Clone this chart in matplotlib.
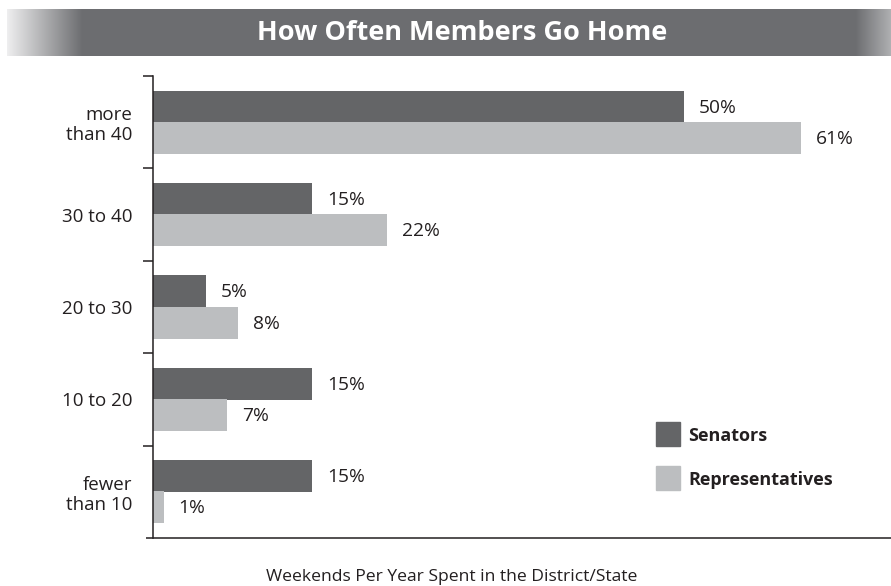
import matplotlib
matplotlib.use("Agg")
import matplotlib.pyplot as plt
from matplotlib.patches import Rectangle
import numpy as np

plt.rcParams['font.family'] = ['Open Sans', 'DejaVu Sans']

# data
categories = ["more\nthan 40", "30 to 40", "20 to 30", "10 to 20", "fewer\nthan 10"]
senators = [50, 15, 5, 15, 15]
representatives = [61, 22, 8, 7, 1]

dark = "#646567"
light = "#bcbec0"
ink = "#231f20"

W, H = 891, 586
fig = plt.figure(figsize=(W / 100, H / 100), dpi=100)

# title banner with gradient ends
bx0, bx1, by0, by1 = 7, 891, 9, 56
bax = fig.add_axes([bx0 / W, 1 - by1 / H, (bx1 - bx0) / W, (by1 - by0) / H])
bax.axis("off")
n = bx1 - bx0
band = np.array([0x6c, 0x6d, 0x70]) / 255.0
row = np.tile(band, (n, 1))
lw = 76
row[:lw] = np.linspace(np.array([0xee, 0xee, 0xef]) / 255.0, band, lw)
rw = 36
row[-rw:] = np.linspace(band, np.array([0xae, 0xaf, 0xb1]) / 255.0, rw)
bax.imshow(row[np.newaxis, :, :], aspect="auto", extent=(0, 1, 0, 1))
bax.set_xlim(0, 1)
bax.set_ylim(0, 1)
fig.text(462 / W, 1 - 33 / H, "How Often Members Go Home", color="white",
         fontsize=19.5, fontweight="bold", ha="center", va="center")

# main axes
left, right, top, bottom = 153, 891, 76, 538
ax = fig.add_axes([left / W, 1 - bottom / H, (right - left) / W, (bottom - top) / H])
y = np.arange(len(categories))[::-1]
bh = 0.346
off = 0.168
ax.barh(y + off, senators, height=bh, color=dark, label="Senators")
ax.barh(y - off, representatives, height=bh, color=light, label="Representatives")

fs = 13.8
for yi, s, r in zip(y, senators, representatives):
    ax.annotate(f"{s}%", (s, yi + off), xytext=(15, -1), textcoords="offset pixels",
                ha="left", va="center", fontsize=fs, color=ink)
    ax.annotate(f"{r}%", (r, yi - off), xytext=(15, -1), textcoords="offset pixels",
                ha="left", va="center", fontsize=fs, color=ink)

ax.set_xlim(0, (right - left) / 10.62)
ax.set_ylim(-0.5, len(categories) - 0.5)

for s in ["top", "right", "bottom"]:
    ax.spines[s].set_visible(False)
ax.spines["left"].set_linewidth(1.1)
ax.spines["left"].set_color(ink)
ax.set_xticks([])
ax.set_yticks(np.arange(len(categories)) + 0.5)
ax.set_yticklabels([])
ax.tick_params(axis="y", direction="out", length=7, width=1.1, color=ink)
ax.set_yticks(y, categories, minor=True)
ax.tick_params(axis="y", which="minor", length=0, pad=15, labelsize=13.5, labelcolor=ink)
for t in ax.get_yticklabels(minor=True):
    t.set_horizontalalignment("right")
    t.set_multialignment("right")
    t.set_linespacing(1.15)

# bottom rule extending past the left spine
ax.plot([-7 / 10.62, ax.get_xlim()[1]], [-0.5, -0.5], color=ink, lw=1.1,
        clip_on=False, solid_capstyle="butt")

# legend
for i, (lab, col) in enumerate([("Senators", dark), ("Representatives", light)]):
    y0 = 422 + i * 44
    fig.patches.append(Rectangle((656 / W, 1 - (y0 + 24) / H), 24 / W, 24 / H,
                                 transform=fig.transFigure, color=col))
    fig.text(688 / W, 1 - (y0 + 14) / H, lab, fontsize=13, fontweight="bold",
             color=ink, ha="left", va="center")

fig.text(452 / W, 1 - 577 / H, "Weekends Per Year Spent in the District/State",
         fontsize=12.6, color=ink, ha="center", va="center")

fig.savefig("out.png", dpi=100)
